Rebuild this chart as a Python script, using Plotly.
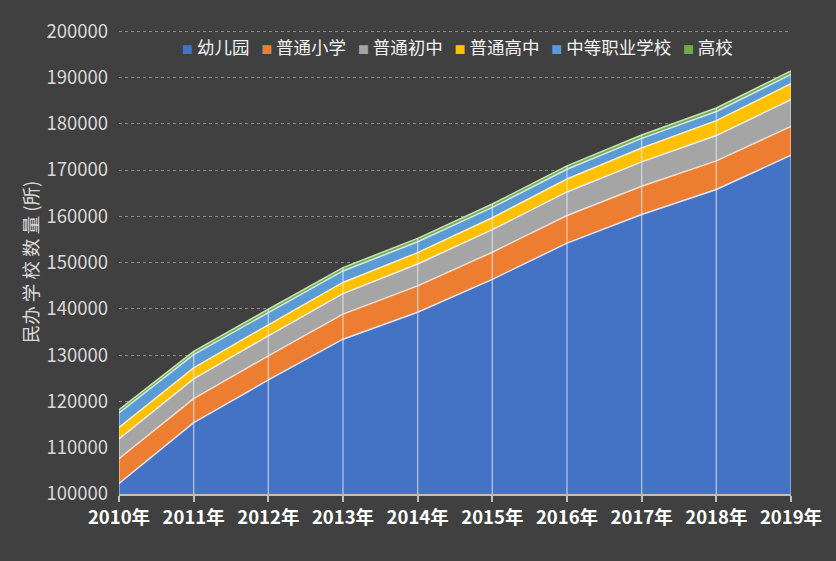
import plotly.graph_objects as go

years = ["2010年", "2011年", "2012年", "2013年", "2014年", "2015年", "2016年", "2017年", "2018年", "2019年"]
kindergarten = [102289, 115404, 124638, 133451, 139282, 146375, 154203, 160372, 165802, 173200]
primary = [5351, 5186, 5213, 5407, 5681, 5859, 5975, 6107, 6179, 6228]
junior = [4259, 4282, 4333, 4449, 4743, 4876, 5085, 5277, 5462, 5793]
senior = [2499, 2394, 2371, 2400, 2442, 2585, 2787, 3002, 3216, 3427]
vocational = [3123, 2856, 2649, 2482, 2343, 2225, 2115, 2069, 1994, 1985]
college = [676, 698, 707, 718, 728, 734, 742, 747, 750, 757]

series = [
    ("幼儿园", kindergarten, "#4472C4"),
    ("普通小学", primary, "#ED7D31"),
    ("普通初中", junior, "#A5A5A5"),
    ("普通高中", senior, "#FFC000"),
    ("中等职业学校", vocational, "#5B9BD5"),
    ("高校", college, "#70AD47"),
]
line_colors = ["#dfe6f5", "#fbe0cf", "#eeeeee", "#fff0c0", "#d8e6f4", "#c6e3b5"]

fig = go.Figure()
for (name, vals, col), lc in zip(series, line_colors):
    fig.add_trace(go.Scatter(
        x=years, y=vals, name=name, mode="lines", stackgroup="one",
        fillcolor=col, line=dict(color=lc, width=1.5), showlegend=False,
    ))

# vertical lines drawn over the areas, from the axis up to each year's stacked total
totals = [sum(v) for v in zip(*[s[1] for s in series])]
for yr, tot in zip(years, totals):
    fig.add_shape(type="line", xref="x", yref="y", x0=yr, x1=yr, y0=100000, y1=tot,
                  line=dict(color="rgba(230,235,245,0.6)", width=1.5), layer="above")

# legend as a single text line with small coloured squares
legend_parts = []
for name, _, col in series:
    legend_parts.append(
        f"<span style='color:{col};font-size:11px'>■</span> {name}"
    )
legend_text = "&nbsp;&nbsp;&nbsp;".join(legend_parts)

font_cjk = "Noto Sans CJK SC, Microsoft YaHei, sans-serif"
fig.add_annotation(text=legend_text, xref="paper", yref="paper", x=0.504, y=0.965,
                   xanchor="center", yanchor="middle", showarrow=False,
                   font=dict(size=17.5, color="#f2f2f2", family=font_cjk))

fig.update_layout(
    width=836, height=561,
    paper_bgcolor="#404040", plot_bgcolor="#404040",
    margin=dict(l=119, r=45, t=30, b=67),
    font=dict(family=font_cjk, color="#d9d9d9"),
    showlegend=False,
    xaxis=dict(type="category", range=[0, 9], showgrid=False,
               showline=True, linecolor="#bfbfbf", linewidth=2,
               ticks="outside", ticklen=6, tickcolor="#bfbfbf", tickwidth=1.5,
               tickfont=dict(size=18.5, color="#ffffff", family=font_cjk, weight="bold"),
               zeroline=False),
    yaxis=dict(range=[100000, 200250], dtick=10000, showgrid=True,
               gridcolor="#8c8c8c", griddash="dot", gridwidth=1,
               tickfont=dict(size=18.5, color="#d9d9d9"), ticks="", ticklabelstandoff=10,
               showline=False, zeroline=False, tickformat="d",
               title=dict(text="民办 学 校 数 量 (所)", font=dict(size=18.5, color="#d9d9d9"), standoff=2)),
)

fig.write_html("out.html", config={"displayModeBar": False},
               post_script="document.body.style.margin='0';document.body.style.background='#404040';")
